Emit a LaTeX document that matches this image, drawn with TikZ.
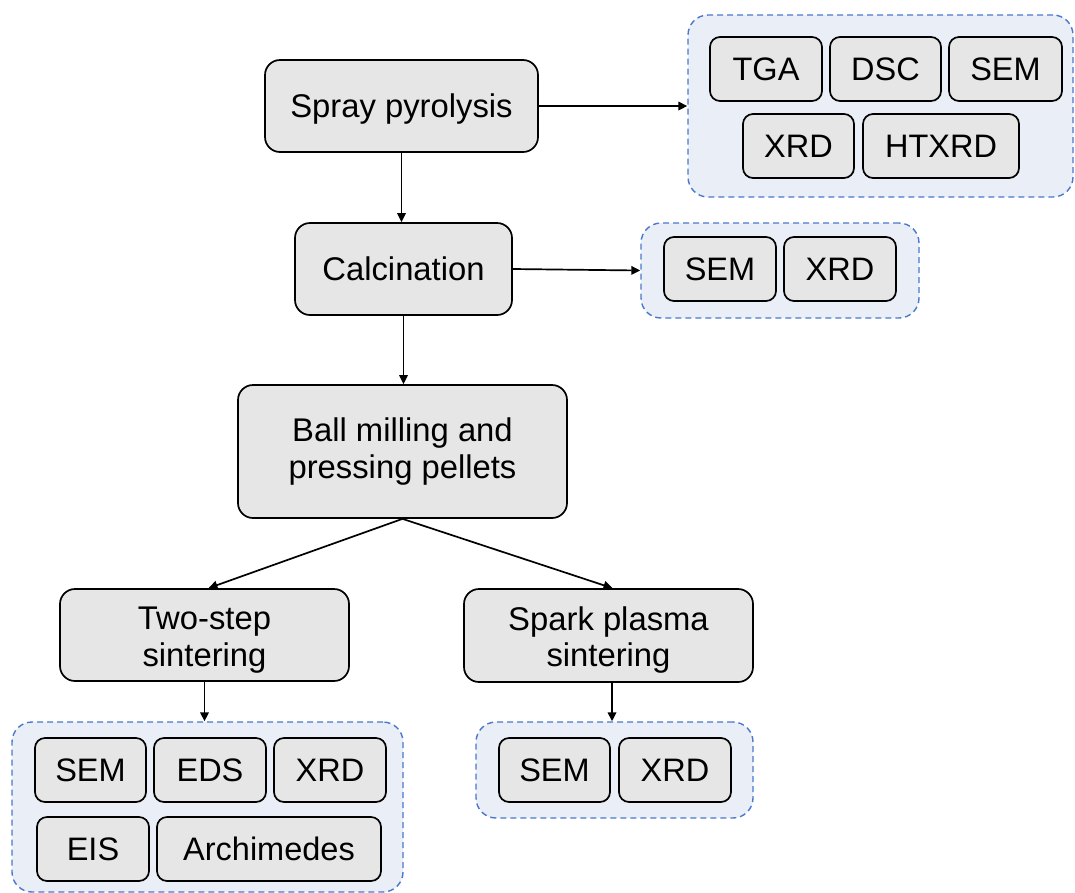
\documentclass[tikz,border=0pt]{standalone}
\usepackage{fontspec}
\setmainfont{Liberation Sans}
\usetikzlibrary{arrows.meta}
\definecolor{boxgray}{HTML}{E6E6E6}
\definecolor{grpfill}{HTML}{E9EEF7}
\definecolor{grpline}{HTML}{4A78CC}
\newcommand{\lowstrut}{\rule{0pt}{33pt}}
\tikzset{
  mainbox/.style={draw=black, line width=1.7pt, fill=boxgray, rounded corners=15pt,
    inner sep=0pt, align=center, font=\fontsize{32.8}{36.5}\selectfont},
  oneline/.style={text depth=0pt},
  smallbox/.style={draw=black, line width=1.7pt, fill=boxgray, rounded corners=10pt,
    inner sep=0pt, align=center, font=\fontsize{32.5}{36}\selectfont},
  grp/.style={draw=grpline, line width=1.4pt, dash pattern=on 6pt off 4pt, fill=grpfill,
    rounded corners=20pt, inner sep=0pt},
  conn/.style={line width=1.7pt, -{Triangle[length=9pt,width=8.5pt]}},
}
\begin{document}
\begin{tikzpicture}[x=1pt,y=-1pt]
\useasboundingbox (0,0) rectangle (1075,892);
% groups
\node[grp, minimum width=385pt, minimum height=182pt] (g1) at (880.5,106) {};
\node[grp, minimum width=278pt, minimum height=95pt] (g2) at (780,270.5) {};
\node[grp, minimum width=391pt, minimum height=170pt] (g3) at (207.5,807) {};
\node[grp, minimum width=277pt, minimum height=96pt] (g4) at (614.5,770) {};
% main boxes
\node[mainbox, oneline, minimum width=273pt, minimum height=92pt] (spray) at (401.5,106) {Spray pyrolysis};
\node[mainbox, oneline, minimum width=217pt, minimum height=92pt] (calc) at (403.5,269) {Calcination};
\node[mainbox, minimum width=329pt, minimum height=133pt] (ball) at (402.5,451.5) {Ball milling and\\pressing pellets};
\node[mainbox, minimum width=289pt, minimum height=92pt] (two) at (204.5,635) {\lowstrut Two-step\\sintering};
\node[mainbox, minimum width=289pt, minimum height=93pt] (spark) at (608.5,635.5) {\lowstrut Spark plasma\\sintering};
% group 1
\node[smallbox, minimum width=112pt, minimum height=64pt] (tga) at (766,69) {TGA};
\node[smallbox, minimum width=111pt, minimum height=64pt] (dsc) at (885.5,69) {DSC};
\node[smallbox, minimum width=113pt, minimum height=64pt] (sem1) at (1005.5,69) {SEM};
\node[smallbox, minimum width=111pt, minimum height=64pt] (xrd1) at (798.5,146) {XRD};
\node[smallbox, minimum width=156pt, minimum height=64pt] (htxrd) at (941,146) {HTXRD};
% group 2
\node[smallbox, minimum width=112pt, minimum height=64pt] (sem2) at (720,269) {SEM};
\node[smallbox, minimum width=112pt, minimum height=64pt] (xrd2) at (840,269) {XRD};
% group 3
\node[smallbox, minimum width=111pt, minimum height=64pt] (sem3) at (90.5,770) {SEM};
\node[smallbox, minimum width=112pt, minimum height=64pt] (eds) at (210,770) {EDS};
\node[smallbox, minimum width=112pt, minimum height=64pt] (xrd3) at (330,770) {XRD};
\node[smallbox, minimum width=112pt, minimum height=64pt] (eis) at (93,849) {EIS};
\node[smallbox, minimum width=224pt, minimum height=64pt] (arch) at (269,849) {Archimedes};
% group 4
\node[smallbox, minimum width=111pt, minimum height=64pt] (sem4) at (554.5,770) {SEM};
\node[smallbox, minimum width=112pt, minimum height=64pt] (xrd4) at (675,770) {XRD};
% connectors
\draw[conn] (spray.east) -- (g1.west);
\draw[conn] (spray.south) -- (calc.north -| spray.south);
\draw[conn] (calc.east) -- (g2.west);
\draw[conn] (calc.south) -- (ball.north -| calc.south);
\draw[conn] (ball.south) -- ([xshift=4pt]two.north);
\draw[conn] (ball.south) -- ([xshift=4pt]spark.north);
\draw[conn] (two.south) -- (g3.north -| two.south);
\draw[conn] (spark.south -| 612,0) -- (g4.north -| 612,0);
\end{tikzpicture}
\end{document}
